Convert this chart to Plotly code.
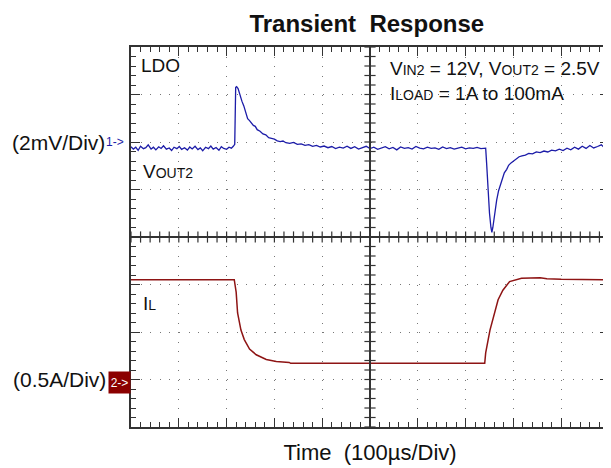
############################################################
# TRANSIENT RESPONSE (SCOPE CAPTURE)
############################################################

import plotly.graph_objects as go

############################################################
# DATA
############################################################

# channel 1 : VOUT2 ripple, time in us, deviation in mV (2mV/Div)
vout_t = [
    0, 5, 10, 15, 20, 26, 31, 36, 42, 47, 52, 58, 63, 68, 74, 80, 85, 90, 96, 101,
    106, 112, 118, 123, 128, 134, 140, 145, 150, 156, 162, 167, 172, 178, 184, 189,
    194, 200, 205, 210, 214,
    217, 219, 221, 224, 228, 232, 236, 240, 244, 248, 252, 256, 260, 264, 270, 276,
    282, 288, 294, 300, 306, 312, 318, 324, 332, 340, 348, 356, 364, 372, 380, 388,
    396, 404, 412, 420, 428, 436, 444, 452,
    460, 468, 476, 484, 492, 500, 508, 516, 524, 532, 540, 548, 556, 564, 572, 580,
    588, 596, 604, 612, 620, 628, 636, 644, 652, 660, 668, 676, 684, 692, 700, 708,
    716, 724, 732, 738,
    742, 744, 747, 750, 753, 755, 757, 759, 762, 765, 769, 773, 777, 781, 786, 790,
    795, 800, 806, 812, 818, 825, 832, 840, 848, 856, 864, 872, 880, 888, 896, 904,
    912, 920, 928, 936, 944, 952, 960, 968, 976, 984, 992, 1000
]

vout_mv = [
    -0.20, -0.30, -0.22, -0.35, -0.18, -0.28, -0.24, -0.12, -0.30, -0.22, -0.33, -0.20,
    -0.27, -0.16, -0.30, -0.25, -0.36, -0.22, -0.28, -0.19, -0.31, -0.24, -0.34, -0.21,
    -0.29, -0.18, -0.32, -0.25, -0.37, -0.22, -0.28, -0.17, -0.30, -0.23, -0.35, -0.20,
    -0.27, -0.31, -0.22, -0.26, -0.18,
    -0.10, 2.30, 2.33, 2.25, 1.95, 1.72, 1.52, 1.28, 0.98, 0.90, 0.80, 0.70, 0.66, 0.52,
    0.45, 0.34, 0.30, 0.18, 0.15, 0.12, 0.05, 0.02, 0.04, -0.03, -0.06, -0.02, -0.10,
    -0.08, -0.14, -0.11, -0.18, -0.14, -0.21, -0.17, -0.24, -0.19, -0.28, -0.22, -0.26,
    -0.18,
    -0.27, -0.20, -0.30, -0.24, -0.18, -0.28, -0.22, -0.31, -0.25, -0.20, -0.29, -0.23,
    -0.33, -0.21, -0.27, -0.24, -0.30, -0.19, -0.26, -0.29, -0.22, -0.27, -0.25, -0.31,
    -0.21, -0.28, -0.24, -0.30, -0.26, -0.22, -0.29, -0.25, -0.27, -0.23, -0.28, -0.26,
    -0.26, -0.90, -2.10, -3.00, -3.60, -3.80, -3.60, -3.25, -2.80, -2.45, -2.05, -1.80,
    -1.55, -1.30, -1.15, -0.98, -0.88, -0.80, -0.70, -0.62, -0.58, -0.55, -0.48, -0.50,
    -0.42, -0.45, -0.38, -0.42, -0.34, -0.37, -0.30, -0.36, -0.26, -0.33, -0.22, -0.30,
    -0.18, -0.27, -0.15, -0.25, -0.19, -0.12, -0.26, -0.18
]

# channel 2 : load current, time in us, current in A (0.5A/Div)
il_t = [
    0, 216, 220, 223, 230, 237, 248, 262, 283, 304, 331, 334,
    740, 742, 751, 758, 768, 778, 792, 817, 856, 870, 900, 1000
]

il_a = [
    1.05, 1.05, 0.92, 0.70, 0.52, 0.42, 0.32, 0.26, 0.21, 0.19, 0.18, 0.17,
    0.17, 0.28, 0.52, 0.66, 0.84, 0.94, 1.03, 1.065, 1.07, 1.06, 1.055, 1.05
]

# scope settings
ch1_scale = 2.0     # mV / div
ch1_offset = 2.0    # div from screen centre
ch2_scale = 0.5     # A / div
ch2_offset = -3.0

############################################################
# FIGURE
############################################################

vout_div = [ch1_offset + v / ch1_scale for v in vout_mv]
il_div = [ch2_offset + a / ch2_scale for a in il_a]

fig = go.Figure()

fig.add_trace(go.Scatter(
    x=vout_t, y=vout_div, mode="lines",
    line=dict(color="#1c1ca8", width=1.3)
))

fig.add_trace(go.Scatter(
    x=il_t, y=il_div, mode="lines",
    line=dict(color="#8e1414", width=1.5)
))

# centre cross-hair with its small ticks
axis_col = "#333333"
fig.add_shape(type="line", x0=500, x1=500, y0=-4, y1=4,
              line=dict(color=axis_col, width=2))
fig.add_shape(type="line", x0=0, x1=1000, y0=0, y1=0,
              line=dict(color=axis_col, width=2))

fig.add_trace(go.Scatter(
    x=[i * 20 for i in range(51)], y=[0] * 51, mode="markers",
    marker=dict(symbol="line-ns", size=8, line=dict(width=1.2, color=axis_col))
))
fig.add_trace(go.Scatter(
    x=[500] * 41, y=[-4 + i * 0.2 for i in range(41)], mode="markers",
    marker=dict(symbol="line-ew", size=8, line=dict(width=1.2, color=axis_col))
))

############################################################
# AXES
############################################################

fig.update_xaxes(
    range=[0, 1000], dtick=100, showticklabels=False,
    showgrid=True, gridcolor="#777777", griddash="1px,8.5px", gridwidth=1,
    showline=True, linecolor=axis_col, linewidth=1.5, mirror="ticks",
    ticks="inside", ticklen=9, tickcolor=axis_col, tickwidth=1,
    minor=dict(dtick=20, ticks="inside", ticklen=5, tickcolor=axis_col, showgrid=False),
    zeroline=False, fixedrange=True
)

fig.update_yaxes(
    range=[-4, 4], dtick=1, showticklabels=False,
    showgrid=True, gridcolor="#777777", griddash="1px,8.6px", gridwidth=1,
    showline=True, linecolor=axis_col, linewidth=1.5, mirror="ticks",
    ticks="inside", ticklen=9, tickcolor=axis_col, tickwidth=1,
    minor=dict(dtick=0.2, ticks="inside", ticklen=5, tickcolor=axis_col, showgrid=False),
    zeroline=False, fixedrange=True
)

############################################################
# LABELS
############################################################

font = "Liberation Sans, Arial, sans-serif"
sub = "<span style='font-size:14px'>{}</span>"

notes = [
    dict(x=0.017, y=3.62, text="LDO", xanchor="left"),
    dict(x=0.02, y=1.37, text="V" + sub.format("OUT2"), xanchor="left"),
    dict(x=0.02, y=-1.4, text="I" + sub.format("L"), xanchor="left"),
    dict(x=0.985, y=3.55, text="V" + sub.format("IN2") + " = 12V, V" + sub.format("OUT2") + " = 2.5V",
         xanchor="right"),
    dict(x=0.537, y=3.03, text="I" + sub.format("LOAD") + " = 1A to 100mA", xanchor="left"),
]
for n in notes:
    fig.add_annotation(xref="paper", yref="y", showarrow=False,
                       font=dict(family=font, size=19, color="#111111"), **n)

# channel scale labels on the left
fig.add_annotation(xref="paper", yref="y", x=0, y=ch1_offset, xshift=-24, xanchor="right",
                   text="(2mV/Div)", showarrow=False,
                   font=dict(family=font, size=21, color="#111111"))
fig.add_annotation(xref="paper", yref="y", x=0, y=ch1_offset, xshift=-5, xanchor="right",
                   text="1->", showarrow=False,
                   font=dict(family=font, size=12, color="#1c1ca8"))
fig.add_annotation(xref="paper", yref="y", x=0, y=ch2_offset, xshift=-23, xanchor="right",
                   text="(0.5A/Div)", showarrow=False,
                   font=dict(family=font, size=21, color="#111111"))
fig.add_annotation(xref="paper", yref="y", x=0, y=ch2_offset, yshift=-3, xanchor="right",
                   text="2->", showarrow=False, bgcolor="#8b0000",
                   width=21, height=21, borderpad=0,
                   font=dict(family=font, size=12, color="white"))

# page body keeps an 8px margin, so the figure is drawn 8px smaller
fig.update_layout(
    width=603, height=460,
    margin=dict(l=123, r=0, t=39, b=41),
    paper_bgcolor="white", plot_bgcolor="white",
    showlegend=False, hovermode=False,
    title=dict(text="<b>Transient  Response</b>", x=0.595, xanchor="center",
               y=0.966, yanchor="middle",
               font=dict(family=font, size=24, color="#111111")),
    xaxis_title=dict(text="Time  (100µs/Div)", standoff=17,
                     font=dict(family=font, size=22, color="#111111")),
)

fig.write_html("out.html")
